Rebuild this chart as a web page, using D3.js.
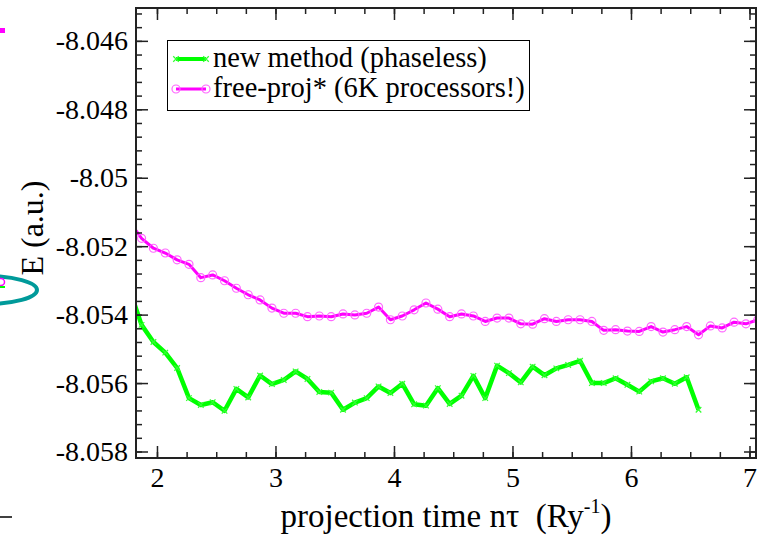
<!DOCTYPE html>
<html>
<head>
<meta charset="utf-8">
<script src="https://cdn.jsdelivr.net/npm/d3@7/dist/d3.min.js"></script>
<style>
  html, body { margin: 0; padding: 0; background: #fff; }
  svg { display: block; }
</style>
</head>
<body>
<svg id="chart" width="769" height="536"></svg>
<script>
// projection time (Ry^-1) sample points
const timeFree = [1.77, 1.87, 1.97, 2.07, 2.17, 2.27, 2.37, 2.47, 2.57, 2.67,
  2.77, 2.87, 2.97, 3.07, 3.17, 3.27, 3.37, 3.47, 3.57, 3.67,
  3.77, 3.87, 3.97, 4.07, 4.17, 4.27, 4.37, 4.47, 4.57, 4.67,
  4.77, 4.87, 4.97, 5.07, 5.17, 5.27, 5.37, 5.47, 5.57, 5.67,
  5.77, 5.87, 5.97, 6.07, 6.17, 6.27, 6.37, 6.47, 6.57, 6.67,
  6.77, 6.87, 6.97, 7.07];
const timeNew = timeFree.slice(0, 49);

// energy (a.u.), free-projection run
const energyFree = [-8.05129, -8.05177, -8.05206, -8.05220, -8.05240, -8.05253, -8.05292, -8.05284, -8.05301, -8.05323,
  -8.05342, -8.05357, -8.05381, -8.05396, -8.05396, -8.05406, -8.05404, -8.05406, -8.05398, -8.05401,
  -8.05396, -8.05378, -8.05415, -8.05404, -8.05386, -8.05366, -8.05384, -8.05406, -8.05398, -8.05404,
  -8.05420, -8.05410, -8.05410, -8.05427, -8.05428, -8.05412, -8.05420, -8.05415, -8.05415, -8.05420,
  -8.05446, -8.05444, -8.05448, -8.05449, -8.05435, -8.05451, -8.05444, -8.05435, -8.05459, -8.05433,
  -8.05439, -8.05422, -8.05427, -8.05415];

// energy (a.u.), new phaseless method
const energyNew = [-8.05328, -8.05430, -8.05480, -8.05511, -8.05556, -8.05644, -8.05664, -8.05656, -8.05681, -8.05617,
  -8.05642, -8.05578, -8.05603, -8.05591, -8.05566, -8.05588, -8.05626, -8.05628, -8.05678, -8.05657,
  -8.05644, -8.05610, -8.05629, -8.05602, -8.05662, -8.05666, -8.05615, -8.05661, -8.05637, -8.05579,
  -8.05644, -8.05549, -8.05571, -8.05598, -8.05552, -8.05577, -8.05557, -8.05547, -8.05535, -8.05600,
  -8.05600, -8.05586, -8.05605, -8.05625, -8.05595, -8.05586, -8.05602, -8.05583, -8.05678];

const xTicks = [2, 3, 4, 5, 6, 7];
const xTickLabels = ["2", "3", "4", "5", "6", "7"];
const yTicks = [-8.058, -8.056, -8.054, -8.052, -8.05, -8.048, -8.046];
const yTickLabels = ["-8.058", "-8.056", "-8.054", "-8.052", "-8.05", "-8.048", "-8.046"];

const seriesNames = ["new method (phaseless)", "free-proj* (6K processors!)"];
const seriesColors = ["#00ff00", "#ff00ff"];

const FONT = "'Liberation Serif'";
const svg = d3.select("#chart");
const frame = { left: 136, right: 756, top: 8, bottom: 458 };

const x = d3.scaleLinear().domain([1.823, 7.055]).range([frame.left, frame.right]);
const y = d3.scaleLinear().domain([-8.05819, -8.04504]).range([frame.bottom, frame.top]);

svg.append("rect").attr("width", 769).attr("height", 536).attr("fill", "#fff");

// fragments of the neighbouring panel at the left edge
const side = svg.append("g");
side.append("rect").attr("x", 0).attr("y", 28).attr("width", 5).attr("height", 5).attr("fill", "#ff00ff");
side.append("ellipse").attr("cx", -15).attr("cy", 290).attr("rx", 52).attr("ry", 14)
  .attr("fill", "none").attr("stroke", "#009a9a").attr("stroke-width", 4);
side.append("circle").attr("cx", 1).attr("cy", 282).attr("r", 3.5)
  .attr("fill", "none").attr("stroke", "#ff00ff").attr("stroke-width", 1.5);
side.append("line").attr("x1", 0).attr("x2", 5).attr("y1", 287).attr("y2", 287)
  .attr("stroke", "#00ff00").attr("stroke-width", 2);
side.append("line").attr("x1", 0).attr("x2", 12).attr("y1", 517).attr("y2", 517)
  .attr("stroke", "#000").attr("stroke-width", 1.5);

// clipped data area
svg.append("defs").append("clipPath").attr("id", "plotClip")
  .append("rect").attr("x", frame.left).attr("y", frame.top)
  .attr("width", frame.right - frame.left).attr("height", frame.bottom - frame.top);

const plot = svg.append("g").attr("clip-path", "url(#plotClip)");
const line = d3.line().x(d => x(d[0])).y(d => y(d[1]));

const freePts = timeFree.map((t, i) => [t, energyFree[i]]);
const newPts = timeNew.map((t, i) => [t, energyNew[i]]);

plot.append("path").datum(freePts).attr("d", line)
  .attr("fill", "none").attr("stroke", seriesColors[1]).attr("stroke-width", 3).attr("stroke-linejoin", "round");
plot.selectAll("circle.free").data(freePts).join("circle").attr("class", "free")
  .attr("cx", d => x(d[0])).attr("cy", d => y(d[1])).attr("r", 4)
  .attr("fill", "none").attr("stroke", "#ff66ff").attr("stroke-width", 1.2);

plot.append("path").datum(newPts).attr("d", line)
  .attr("fill", "none").attr("stroke", seriesColors[0]).attr("stroke-width", 4.5).attr("stroke-linejoin", "round");
const cross = d3.symbol().type(d3.symbolX).size(22);
plot.selectAll("path.newm").data(newPts).join("path").attr("class", "newm")
  .attr("d", cross).attr("transform", d => `translate(${x(d[0])},${y(d[1])})`)
  .attr("fill", "none").attr("stroke", "#33ff33").attr("stroke-width", 1.2);

// axes with inward ticks on all four sides
function styleAxis(g) {
  g.attr("font-family", FONT).attr("font-size", 28);
  g.select(".domain").remove();
  g.selectAll(".tick line").attr("stroke", "#222").attr("stroke-width", 1.5);
  g.selectAll(".tick text").style("font-family", FONT).style("font-size", "28px").attr("fill", "#000");
}
const xMinor = d3.range(1.75, 7.06, 0.25).filter(v => v >= 1.823 && v <= 7.055);
const yMinor = d3.range(-8.058, -8.045, 0.0004).filter(v => v <= -8.04504);

const axisDefs = [
  { make: () => d3.axisBottom(x), pos: `translate(0,${frame.bottom})`, major: xTicks, minor: xMinor, labels: xTickLabels, pad: 9 },
  { make: () => d3.axisTop(x), pos: `translate(0,${frame.top})`, major: xTicks, minor: xMinor, labels: null, pad: 0 },
  { make: () => d3.axisLeft(y), pos: `translate(${frame.left},0)`, major: yTicks, minor: yMinor, labels: yTickLabels, pad: 8 },
  { make: () => d3.axisRight(y), pos: `translate(${frame.right},0)`, major: yTicks, minor: yMinor, labels: null, pad: 0 }
];
axisDefs.forEach(a => {
  const gm = svg.append("g").attr("transform", a.pos)
    .call(a.make().tickValues(a.minor).tickSize(-6).tickFormat(""));
  styleAxis(gm);
  const g = svg.append("g").attr("transform", a.pos)
    .call(a.make().tickValues(a.major).tickSize(-12).tickPadding(a.pad)
      .tickFormat(a.labels ? ((d, i) => a.labels[i]) : ""));
  styleAxis(g);
});

// frame
svg.append("rect").attr("x", frame.left).attr("y", frame.top)
  .attr("width", frame.right - frame.left).attr("height", frame.bottom - frame.top)
  .attr("fill", "none").attr("stroke", "#222").attr("stroke-width", 2);

// axis titles
svg.append("text").attr("transform", "translate(43,228) rotate(-90)")
  .attr("text-anchor", "middle").style("font-family", FONT).style("font-size", "32px").text("E (a.u.)");
const xt = svg.append("text").attr("x", 446).attr("y", 527).attr("text-anchor", "middle")
  .attr("xml:space", "preserve").style("font-family", FONT).style("font-size", "33px");
xt.append("tspan").text("projection time n\u03c4\u00a0 (Ry");
xt.append("tspan").attr("dy", -14).style("font-size", "20px").text("-1");
xt.append("tspan").attr("dy", 14).text(")");

// legend
const lg = svg.append("g");
lg.append("rect").attr("x", 167.5).attr("y", 40.5).attr("width", 362).attr("height", 70)
  .attr("fill", "#fff").attr("stroke", "#000").attr("stroke-width", 1);
const rows = [59, 89];
rows.forEach((ry, i) => {
  lg.append("line").attr("x1", 176).attr("x2", 206).attr("y1", ry).attr("y2", ry)
    .attr("stroke", seriesColors[i]).attr("stroke-width", i === 0 ? 4 : 3);
  [176, 206].forEach(px => {
    if (i === 0) {
      lg.append("path").attr("d", cross).attr("transform", `translate(${px},${ry})`)
        .attr("fill", "none").attr("stroke", "#33ff33").attr("stroke-width", 1.2);
    } else {
      lg.append("circle").attr("cx", px).attr("cy", ry).attr("r", 4)
        .attr("fill", "none").attr("stroke", "#ff66ff").attr("stroke-width", 1.2);
    }
  });
  lg.append("text").attr("x", 213).attr("y", ry + 8)
    .style("font-family", FONT).style("font-size", "28.5px").text(seriesNames[i]);
});
</script>
</body>
</html>
